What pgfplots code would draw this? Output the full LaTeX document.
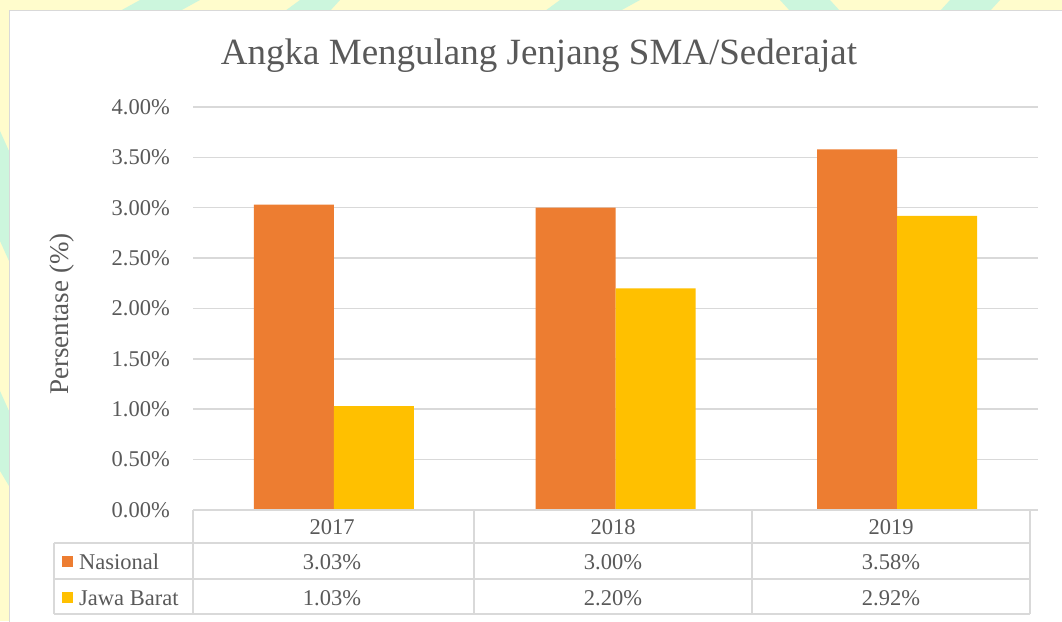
\documentclass[border=0pt]{standalone}
\usepackage{fontspec}
\setmainfont{Liberation Serif}
\usepackage{pgfplots}
\pgfplotsset{compat=1.18}
\definecolor{txt}{HTML}{595959}
\definecolor{grd}{HTML}{D9D9D9}
\definecolor{nas}{HTML}{ED7D31}
\definecolor{jab}{HTML}{FFC000}
\definecolor{bgy}{HTML}{FFFCCC}
\definecolor{mint}{HTML}{CCF6DD}
\newcommand{\tf}{\fontsize{22.5}{27}\selectfont}
\begin{document}
\begin{tikzpicture}[x=1pt,y=1pt]
\useasboundingbox (0,0) rectangle (1062,621);
\fill[bgy] (0,0) rectangle (1062,621);
% watermark fragments
\fill[mint] (0,380) -- (9,360) -- (9,470) -- (0,490) -- cycle;
\fill[mint] (0,150) -- (9,135) -- (9,210) -- (0,230) -- cycle;
\fill[mint] (140,621) -- (200,621) -- (180,610) -- (120,610) -- cycle;
\fill[mint] (300,621) -- (340,621) -- (330,610) -- (285,610) -- cycle;
\fill[mint] (560,621) -- (640,621) -- (620,610) -- (545,610) -- cycle;
\fill[mint] (780,621) -- (830,621) -- (840,610) -- (790,610) -- cycle;
\fill[mint] (950,621) -- (1000,621) -- (990,610) -- (940,610) -- cycle;
\filldraw[fill=white, draw=grd, line width=1pt] (9,-10) rectangle (1075,610);
\begin{axis}[
  at={(193pt,111pt)}, anchor=south west, scale only axis,
  width=845pt, height=403pt,
  xmin=-0.5, xmax=2.5, ymin=0, ymax=4,
  ybar=0pt, bar width=80pt,
  axis line style={draw=none},
  major tick length=0pt,
  xtick=\empty,
  ytick={0,0.5,1,1.5,2,2.5,3,3.5,4},
  yticklabel={\pgfmathprintnumber[fixed,fixed zerofill,precision=2]{\tick}\%},
  /pgf/number format/assume math mode=true,
  yticklabel style={font=\tf, text=txt, anchor=east, inner sep=0pt, xshift=-23pt},
  ymajorgrids,
  grid style={grd, line width=1.5pt},
  clip=false,
]
\addplot[fill=nas, draw=none] coordinates {(0,3.03) (1,3.00) (2,3.58)};
\addplot[fill=jab, draw=none] coordinates {(0,1.03) (1,2.20) (2,2.92)};
\end{axis}
% title
\node[anchor=base, text=txt, font=\fontsize{37}{44}\selectfont, inner sep=0pt] at (539,556) {Angka Mengulang Jenjang SMA/Sederajat};
% y label
\node[rotate=90, text=txt, font=\fontsize{27}{32}\selectfont, inner sep=0pt] at (62,307) {Persentase (\%)};
% data table
\begin{scope}[draw=grd, line width=1.7pt]
\draw (193,111) -- (1030,111);
\draw (54,78) -- (1030,78);
\draw (54,42) -- (1030,42);
\draw (54,7) -- (1030,7);
\draw (54,78) -- (54,7);
\draw (193,111) -- (193,7);
\draw (474,111) -- (474,7);
\draw (752,111) -- (752,7);
\draw (1030,111) -- (1030,7);
\end{scope}
\begin{scope}[every node/.style={anchor=base, text=txt, font=\tf, inner sep=0pt}]
\node at (332,86) {2017};
\node at (613,86) {2018};
\node at (891,86) {2019};
\node at (332,52) {3.03\%};
\node at (613,52) {3.00\%};
\node at (891,52) {3.58\%};
\node at (332,16) {1.03\%};
\node at (613,16) {2.20\%};
\node at (891,16) {2.92\%};
\node[anchor=base west] at (79,52) {Nasional};
\node[anchor=base west] at (79,16) {Jawa Barat};
\end{scope}
\fill[nas] (62,54) rectangle (73,65);
\fill[jab] (62,18) rectangle (73,29);
\end{tikzpicture}
\end{document}
